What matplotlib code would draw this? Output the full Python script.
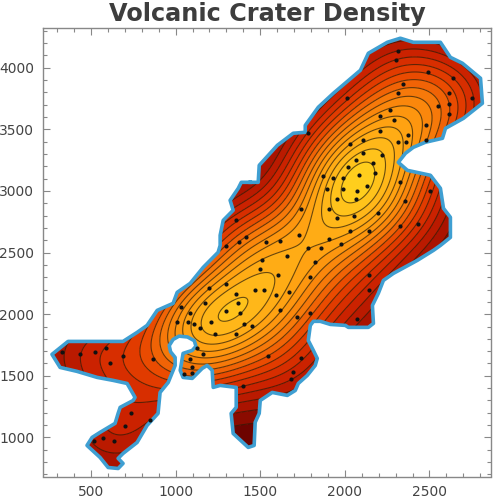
import numpy as np
import matplotlib
matplotlib.use('Agg')
import matplotlib.pyplot as plt
from matplotlib.colors import LinearSegmentedColormap
from matplotlib.patches import Polygon
from matplotlib.path import Path
from matplotlib.ticker import MultipleLocator

# region outline
outline_x = [1441, 1488, 1494, 1601, 1695, 1766, 1766, 1843, 1932, 2092, 2139, 2251, 2328, 2405, 2565, 2624,
             2695, 2802, 2813, 2701, 2595, 2577, 2476, 2405, 2358, 2316, 2370, 2506, 2565, 2583, 2624, 2624,
             2565, 2524, 2429, 2287, 2228, 2198, 2163, 2169, 2139, 2021, 2003, 1914, 1855, 1814, 1796, 1784,
             1814, 1837, 1825, 1778, 1725, 1707, 1660, 1571, 1500, 1494, 1470, 1464, 1429, 1340, 1328, 1358,
             1358, 1263, 1222, 1216, 1186, 1157, 1098, 1044, 1027, 1044, 1098, 1120, 1110, 1070, 1020, 985, 962, 970,
             997, 997, 956, 908, 896, 831, 772, 689, 660, 689, 660, 601, 553, 476, 506, 553, 642, 660, 672,
             749, 760, 713, 630, 536, 417, 317, 269, 364, 524, 689, 772, 831, 891, 985, 1009, 1086, 1163,
             1251, 1263, 1263, 1281, 1340, 1322, 1370, 1388]
outline_y = [3070, 3070, 3208, 3370, 3468, 3476, 3532, 3679, 3792, 3979, 4117, 4206, 4239, 4206, 4206, 4084,
             4036, 3914, 3711, 3589, 3508, 3427, 3395, 3354, 3305, 3232, 3167, 3127, 3021, 2859, 2786, 2623,
             2558, 2518, 2437, 2331, 2274, 2169, 2071, 1925, 1893, 1893, 1909, 1917, 1942, 1942, 1909, 1787,
             1706, 1641, 1584, 1503, 1438, 1381, 1341, 1365, 1300, 1195, 1122, 935, 919, 1032, 1195, 1244,
             1406, 1422, 1406, 1544, 1584, 1560, 1479, 1487, 1544, 1682, 1706, 1740, 1785, 1815, 1822, 1795, 1745, 1695,
             1649, 1584, 1446, 1365, 1195, 1097, 959, 870, 830, 789, 748, 756, 838, 935, 1000, 1041, 1114, 1195,
             1244, 1300, 1325, 1438, 1463, 1487, 1536, 1568, 1674, 1779, 1779, 1779, 1852, 1909, 2031, 2088,
             2177, 2250, 2380, 2502, 2558, 2640, 2761, 2843, 2924, 3021, 3070]

# crater positions
crater_x = [2313, 2301, 2492, 2638, 2346, 2313, 2614, 2754, 2015, 2549, 2614, 2265, 2208, 2289, 2614, 2480,
            2208, 1784, 2372, 2109, 2029, 2313, 2360, 2480, 2109, 2220, 2064, 2169, 2017, 2180, 1873, 2086,
            1987, 1930, 2326, 2133, 1895, 1987, 2074, 2504, 1954, 2064, 2358, 1739, 1906, 2198, 2052, 1954,
            2435, 2324, 2029, 2145, 1727, 1906, 1536, 1617, 1975, 1784, 1859, 1658, 1512, 1826, 1500, 2143,
            1607, 1796, 1467, 1524, 1595, 1670, 2143, 1618, 1796, 1715, 2074, 1453, 1547, 1739, 1691, 1682,
            1354, 1415, 1377, 1295, 1198, 1297, 1356, 1176, 1368, 1030, 1084, 1297, 1379, 1007, 1072, 1107,
            1210, 1403, 1141, 1235, 1356, 1129, 1164, 1084, 869, 689, 614, 590, 522, 433, 330, 1095, 1095,
            1048, 1401, 735, 701, 569, 638, 520, 849]
crater_y = [4138, 4065, 3965, 3916, 3868, 3795, 3795, 3757, 3757, 3692, 3708, 3654, 3605, 3573, 3622, 3532,
            3486, 3470, 3454, 3416, 3383, 3400, 3400, 3416, 3310, 3294, 3248, 3224, 3191, 3143, 3121, 3129,
            3105, 3105, 3072, 3040, 3018, 3018, 3002, 3002, 2937, 2937, 2921, 2850, 2850, 2818, 2793, 2777,
            2731, 2715, 2677, 2677, 2645, 2612, 2588, 2596, 2572, 2539, 2539, 2469, 2437, 2421, 2364, 2318,
            2318, 2302, 2199, 2199, 2158, 2182, 2199, 2036, 2007, 1974, 1958, 1901, 1663, 1647, 1528, 1473,
            2764, 2628, 2588, 2555, 2212, 2245, 2166, 2093, 2093, 2055, 2007, 2023, 2007, 1936, 1936, 1920,
            1936, 1920, 1887, 1841, 1841, 1728, 1679, 1633, 1633, 1663, 1606, 1728, 1695, 1679, 1695, 1574,
            1525, 1514, 1417, 1200, 1089, 997, 970, 970, 1138]

xticks_major = [500, 1000, 1500, 2000, 2500]
yticks_major = [1000, 1500, 2000, 2500, 3000, 3500, 4000]

cx = np.array(crater_x, dtype=float)
cy = np.array(crater_y, dtype=float)

# density surface from the craters
bw_x, bw_y = 235.0, 280.0
gx = np.linspace(200, 2880, 300)
gy = np.linspace(670, 4330, 400)
X, Y = np.meshgrid(gx, gy)
Z = np.zeros_like(X)
for a, b in zip(cx, cy):
    Z += np.exp(-0.5 * (((X - a) / bw_x) ** 2 + ((Y - b) / bw_y) ** 2))

inside = Path(np.column_stack([outline_x, outline_y])).contains_points(np.column_stack([X.ravel(), Y.ravel()]))
zlow = Z.ravel()[inside].min()

fire = LinearSegmentedColormap.from_list('fire', ['#5f0000', '#a81200', '#d02400', '#e84400', '#f67a0a',
                                                  '#ff9c10', '#ffb418', '#ffd21e'])
# top band left wide so the yellow core stays flat
levels = np.append(np.linspace(zlow, Z.max() * 0.96, 17), Z.max() * 1.001)

fig = plt.figure(figsize=(4.99, 5.0), dpi=100)
ax = fig.add_axes([42.5 / 499, 1 - 476.5 / 500, 448 / 499, 448.5 / 500])

poly = Polygon(np.column_stack([outline_x, outline_y]), closed=True, transform=ax.transData,
               facecolor='none', edgecolor='none')
ax.add_patch(poly)
cf = ax.contourf(X, Y, Z, levels=levels, cmap=fire)
cl = ax.contour(X, Y, Z, levels=levels[:-1], colors='#2a1a08', linewidths=0.8, alpha=0.7)
cf.set_clip_path(poly)
cl.set_clip_path(poly)

ax.plot(outline_x + outline_x[:1], outline_y + outline_y[:1], color='#3f9fd2', lw=2.6,
        solid_joinstyle='round', zorder=3)
ax.scatter(cx, cy, s=9, color='#111111', zorder=4, linewidths=0)

ax.set_xlim(213, 2861)
ax.set_ylim(683, 4322)
ax.set_xticks(xticks_major)
ax.set_yticks(yticks_major)
ax.xaxis.set_minor_locator(MultipleLocator(100))
ax.yaxis.set_minor_locator(MultipleLocator(100))
ax.tick_params(which='major', direction='in', length=5, width=0.8, color='#888888', top=True, right=True,
               labelsize=10, labelcolor='#444444', pad=6)
ax.tick_params(which='minor', direction='in', length=2.8, width=0.8, color='#888888', top=True, right=True)
for s in ax.spines.values():
    s.set_color('#888888')
    s.set_linewidth(1.0)

fig.text(267 / 499, 1 - 14 / 500, 'Volcanic Crater Density', ha='center', va='center', fontsize=17.3,
         fontweight='bold', color='#3d3d3d')

fig.savefig('out.png', dpi=100)
